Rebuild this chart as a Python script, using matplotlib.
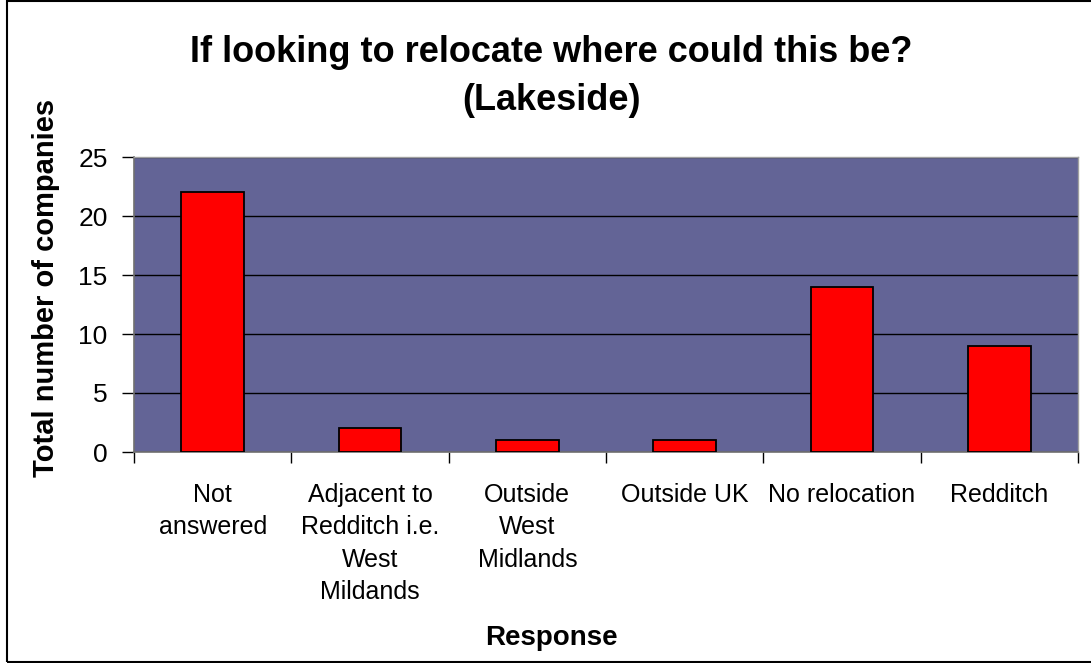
import matplotlib
matplotlib.use("Agg")
import matplotlib.pyplot as plt
import numpy as np
from matplotlib.patches import Rectangle

categories = ["Not\nanswered", "Adjacent to\nRedditch i.e.\nWest\nMildands",
              "Outside\nWest\nMidlands", "Outside UK", "No relocation", "Redditch"]
counts = [22, 2, 1, 1, 14, 9]
yticks = [0, 5, 10, 15, 20, 25]

plt.rcParams['font.family'] = ['Liberation Sans', 'DejaVu Sans']

fig = plt.figure(figsize=(10.91, 6.63), dpi=100)
fig.patch.set_facecolor('white')

# outer chart frame
fig.patches.append(Rectangle((7/1091, 1/663), 1.1, 661/663, transform=fig.transFigure,
                             fill=False, edgecolor='black', linewidth=1.5, zorder=0))

ax = fig.add_axes([134/1091, 1-452/663, (1078-134)/1091, (452-157)/663])
ax.set_facecolor('#636496')

x = np.arange(len(counts))
ax.bar(x, counts, width=0.4, color='#ff0000', edgecolor='black', linewidth=1.3, zorder=3)

ax.set_xlim(-0.5, len(counts)-0.5)
ax.set_ylim(0, 25)
ax.set_yticks(yticks)
ax.yaxis.grid(True, color='black', linewidth=1.0, zorder=1)
ax.set_axisbelow(True)

ax.set_xticks(x)
ax.set_xticklabels(categories, fontsize=18, linespacing=1.45, va='top')
ax.set_xticks(np.arange(-0.5, len(counts), 1), minor=True)
ax.tick_params(axis='x', which='major', length=0, pad=22)
ax.tick_params(axis='x', which='minor', length=8, width=1, color='black')
ax.tick_params(axis='y', length=9, width=1, color='black', labelsize=19, pad=10)

for s in ['left', 'bottom']:
    ax.spines[s].set_color('#707070')
    ax.spines[s].set_linewidth(1.2)
for s in ['top', 'right']:
    ax.spines[s].set_color('#a0a0a0')
    ax.spines[s].set_linewidth(1.0)

fig.text(551/1091, 1-52/663, "If looking to relocate where could this be?",
         fontsize=26, fontweight='bold', ha='center', va='center')
fig.text(551/1091, 1-101/663, "(Lakeside)",
         fontsize=26, fontweight='bold', ha='center', va='center')

fig.text(46/1091, 1-288/663, "Total number of companies", rotation=90,
         fontsize=21, fontweight='bold', ha='center', va='center')
fig.text(551/1091, 1-638/663, "Response", fontsize=20, fontweight='bold',
         ha='center', va='center')

plt.savefig("out.png", dpi=100)
